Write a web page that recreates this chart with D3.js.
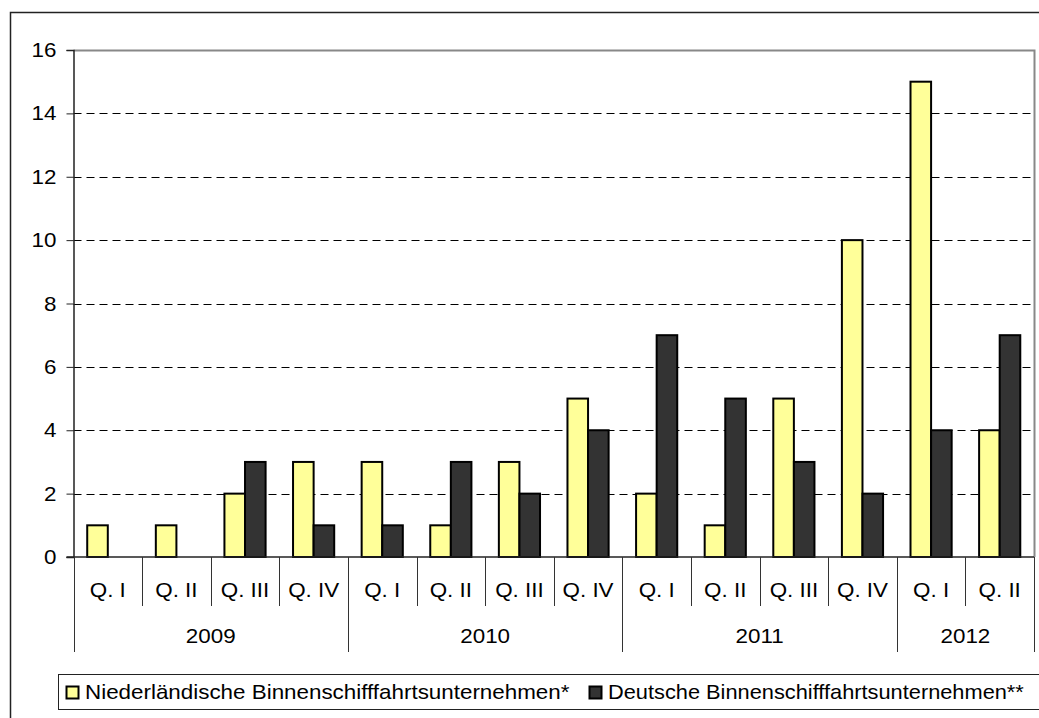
<!DOCTYPE html>
<html>
<head>
<meta charset="utf-8">
<script src="https://cdn.jsdelivr.net/npm/d3@7"></script>
<style>
  body { margin: 0; background: #fff; }
  svg { display: block; font-family: "Liberation Sans", Arial, sans-serif; }
</style>
</head>
<body>
<svg id="chart" width="1039" height="718"></svg>
<script>
// data
const quarters = ["Q. I", "Q. II", "Q. III", "Q. IV", "Q. I", "Q. II", "Q. III", "Q. IV",
                  "Q. I", "Q. II", "Q. III", "Q. IV", "Q. I", "Q. II"];
const years = ["2009", "2010", "2011", "2012"];
const quartersPerYear = [4, 4, 4, 2];
const niederlaendisch = [1, 1, 2, 3, 3, 1, 3, 5, 2, 1, 5, 10, 15, 4];
const deutsch = [0, 0, 3, 1, 1, 3, 2, 4, 7, 5, 3, 2, 4, 7];
const seriesNames = ["Niederländische Binnenschifffahrtsunternehmen*", "Deutsche Binnenschifffahrtsunternehmen**"];
const seriesColors = ["#FFFF99", "#333333"];
const yTicks = [0, 2, 4, 6, 8, 10, 12, 14, 16];

const svg = d3.select("#chart");
const plotLeft = 73.5, plotRight = 1034, plotTop = 50, plotBottom = 557;
const fs = 20, sx = 1.12;

// text with slight horizontal stretch like the original
function label(sel, x, y, str, anchor, scale) {
  return sel.append("text")
    .attr("transform", `translate(${x},${y}) scale(${scale || sx},1)`)
    .attr("text-anchor", anchor || "start")
    .attr("font-size", fs).attr("fill", "#000")
    .text(str);
}

// outer frame
svg.append("rect")
  .attr("x", 10.5).attr("y", 12.5)
  .attr("width", 1100).attr("height", 800)
  .attr("fill", "none").attr("stroke", "#222").attr("stroke-width", 1.5);

const idx = quarters.map((q, i) => i);
const x = d3.scaleBand().domain(idx).range([plotLeft, plotRight]).padding(0);
const y = d3.scaleLinear().domain([0, 16]).range([plotBottom, plotTop]);

// plot border (top/right grey)
svg.append("path")
  .attr("d", `M${plotLeft},${plotTop + 0.5}H${plotRight + 0.5}V${plotBottom}`)
  .attr("fill", "none").attr("stroke", "#888").attr("stroke-width", 2);

// grid
svg.append("g").selectAll("line")
  .data(yTicks.filter(d => d > 0 && d < 16))
  .join("line")
  .attr("x1", plotLeft).attr("x2", plotRight)
  .attr("y1", d => Math.round(y(d)) + 0.5).attr("y2", d => Math.round(y(d)) + 0.5)
  .attr("stroke", "#000").attr("stroke-dasharray", "8,5");

// y axis
const yAxis = svg.append("g")
  .attr("transform", `translate(${plotLeft},0)`)
  .call(d3.axisLeft(y).tickValues(yTicks).tickSize(7).tickFormat(""));
yAxis.select(".domain").attr("stroke", "#222").attr("stroke-width", 1.5);
yAxis.selectAll(".tick line").attr("stroke", "#222");
yTicks.forEach(t => label(svg, plotLeft - 17, y(t) + 7, t, "end"));

// bars
const bw = x.bandwidth() * 0.3;
const off = (x.bandwidth() - 2 * bw) / 2;
[niederlaendisch, deutsch].forEach((vals, s) => {
  svg.append("g").selectAll("rect")
    .data(idx.filter(i => vals[i] > 0))
    .join("rect")
    .attr("x", i => x(i) + off + s * bw)
    .attr("y", i => y(vals[i]))
    .attr("width", bw)
    .attr("height", i => y(0) - y(vals[i]))
    .attr("fill", seriesColors[s])
    .attr("stroke", "#000").attr("stroke-width", 2);
});

// x axis line
svg.append("line")
  .attr("x1", plotLeft - 7).attr("x2", plotRight)
  .attr("y1", plotBottom).attr("y2", plotBottom)
  .attr("stroke", "#222").attr("stroke-width", 1.5);

// quarter separators and labels
const g = svg.append("g");
idx.forEach(i => {
  g.append("line")
    .attr("x1", Math.round(x(i)) + 0.5).attr("x2", Math.round(x(i)) + 0.5)
    .attr("y1", plotBottom).attr("y2", 606)
    .attr("stroke", "#333");
  label(g, x(i) + x.bandwidth() / 2, 597, quarters[i], "middle");
});

// year separators and labels
let start = 0;
const yearBounds = [0];
quartersPerYear.forEach((n, k) => {
  const x0 = x(start), x1 = start + n < idx.length ? x(start + n) : plotRight;
  label(g, (x0 + x1) / 2, 643, years[k], "middle");
  start += n;
  yearBounds.push(start);
});
yearBounds.forEach(b => {
  const xp = b < idx.length ? x(b) : plotRight;
  g.append("line")
    .attr("x1", Math.round(xp) + 0.5).attr("x2", Math.round(xp) + 0.5)
    .attr("y1", plotBottom).attr("y2", 652)
    .attr("stroke", "#333");
});

// legend
svg.append("rect")
  .attr("x", 58.5).attr("y", 674.5)
  .attr("width", 1100).attr("height", 35)
  .attr("fill", "#fff").attr("stroke", "#222");
const legendX = [66, 589];
seriesNames.forEach((name, s) => {
  svg.append("rect")
    .attr("x", legendX[s] + 0.5).attr("y", 686.5)
    .attr("width", 12).attr("height", 12)
    .attr("fill", seriesColors[s]).attr("stroke", "#000").attr("stroke-width", 2);
  label(svg, legendX[s] + 19, 699, name, "start", s === 1 ? 1.09 : sx);
});
</script>
</body>
</html>
